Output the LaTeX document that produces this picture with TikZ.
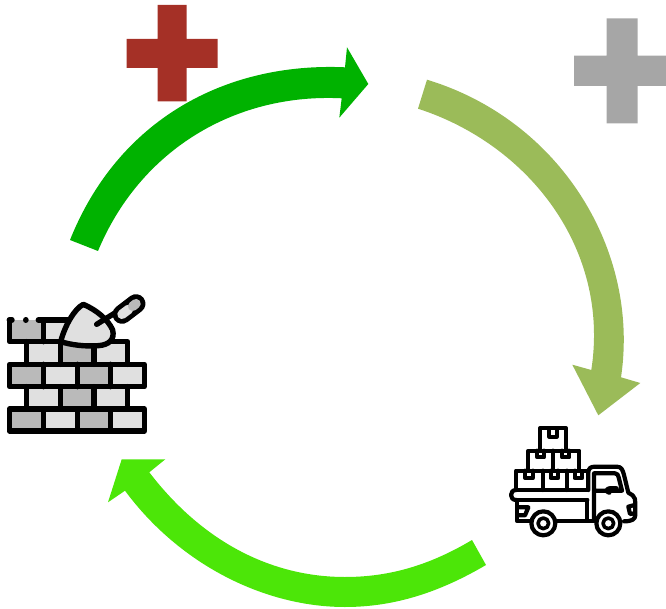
\documentclass[tikz,border=0pt]{standalone}
\definecolor{arrowtop}{RGB}{0,178,0}
\definecolor{arrowright}{RGB}{155,187,89}
\definecolor{arrowbottom}{RGB}{76,230,8}
\definecolor{crossred}{RGB}{165,48,38}
\definecolor{crossgray}{RGB}{166,166,166}
\definecolor{bricklight}{RGB}{224,224,224}
\definecolor{brickdark}{RGB}{186,186,186}
\tikzset{
  ink/.style={draw=black,line join=round,line cap=round},
  wallink/.style={ink,line width=5.4pt},
  truckink/.style={ink,line width=4.2pt},
  zoomwall/.style={shift={(0,285)},x=0.33333pt,y=-0.33333pt},
  zoomtruck/.style={shift={(500,420)},x=0.33333pt,y=-0.33333pt}
}
\begin{document}
\begin{tikzpicture}[x=1pt,y=-1pt]
\useasboundingbox (0,0) rectangle (666,609);
% crosses
\fill[crossred] (157.5,5) -- (186.7,5) -- (186.7,39) -- (217.5,39) -- (217.5,68) -- (186.7,68) -- (186.7,101.5) -- (157.5,101.5) -- (157.5,68) -- (126.5,68) -- (126.5,39) -- (157.5,39) -- cycle;
\fill[crossgray] (606.7,18.5) -- (637.5,18.5) -- (637.5,55.7) -- (666,55.7) -- (666,86) -- (637.5,86) -- (637.5,123.5) -- (606.7,123.5) -- (606.7,86) -- (574,86) -- (574,55.7) -- (606.7,55.7) -- cycle;
% arrows
\fill[arrowtop] (70,240) .. controls (118,120) and (225,62) .. (345,67.3) -- (347,47.3) -- (368.3,84) -- (339.3,117.7) -- (341.7,98.3) .. controls (235,93) and (140,150) .. (98,251) -- cycle;
\fill[arrowright] (427,79.7) .. controls (560,120) and (640,250) .. (621,377.3) -- (640.3,383) -- (598.3,415.3) -- (572.3,364.7) -- (591.3,370) .. controls (610,250) and (530,145) .. (418,108.7) -- cycle;
\fill[arrowbottom] (486,565) .. controls (440,592) and (395,607) .. (345,607) .. controls (265,607) and (180,565) .. (125,490.7) -- (108,502.3) -- (121.7,459.3) -- (165.3,459.3) -- (149.3,472.3) .. controls (205,545) and (275,577) .. (345,577) .. controls (390,577) and (430,565) .. (472,540) -- cycle;
% brick wall icon
\begin{scope}[zoomwall]
  \fill[brickdark] (30,105) rectangle (130,170);
  \fill[bricklight] (130,105) rectangle (230,170);
  \foreach \xa/\xb/\c in {85/182/bricklight,182/282/brickdark,282/382/bricklight}{
    \fill[\c] (\xa,170) rectangle (\xb,238);
    \fill[\c] (\xa,305) rectangle (\xb,372);
  }
  \foreach \xa/\xb/\c in {30/131/brickdark,131/232/bricklight,232/332/brickdark,332/430/bricklight}{
    \fill[\c] (\xa,238) rectangle (\xb,305);
    \fill[\c] (\xa,372) rectangle (\xb,438);
  }
  \draw[wallink] (28,105) -- (36,105) (77,105) -- (78,105) (115,105) -- (215,105);
  \draw[wallink] (28,105) -- (28,170) -- (185,170) (131,105) -- (131,170);
  \draw[wallink] (80,170) -- (80,238) (182,170) -- (182,238) (282,175) -- (282,238) (330,170) -- (383,170) -- (383,238);
  \draw[wallink] (28,238) rectangle (433,305);
  \foreach \v in {131,232,332}{ \draw[wallink] (\v,238) -- (\v,305); \draw[wallink] (\v,372) -- (\v,438); }
  \draw[wallink] (80,305) -- (80,372) (182,305) -- (182,372) (282,305) -- (282,372) (383,305) -- (383,372);
  \draw[wallink] (28,372) rectangle (433,438);
  % trowel
  \draw[wallink,fill=bricklight] (182,170) .. controls (195,120) and (225,70) .. (250,58) .. controls (290,75) and (325,105) .. (338,135) .. controls (345,165) and (325,180) .. (295,182) .. controls (255,185) and (215,180) .. (182,170) -- cycle;
  \draw[wallink] (290,118) -- (348,82);
  \draw[black,line width=19pt,line cap=round] (366,88) -- (408,56);
  \draw[bricklight,line width=9.5pt,line cap=round] (366,88) -- (386,73);
  \draw[brickdark,line width=9.5pt,line cap=round] (398,64) -- (408,56);
\end{scope}
% truck icon
\begin{scope}[zoomtruck]
  \draw[truckink] (120,25) rectangle (198,92);
  \draw[truckink] (148,25) -- (148,50) -- (170,50) -- (170,25);
  \draw[truckink] (85,92) rectangle (238,152) (160,92) -- (160,152);
  \draw[truckink] (112,92) -- (112,112) -- (132,112) -- (132,92) (186,92) -- (186,112) -- (208,112) -- (208,92);
  \draw[truckink] (48,210) -- (48,152) -- (262,152) (128,152) -- (128,210) (200,152) -- (200,210);
  \draw[truckink] (76,152) -- (76,174) -- (98,174) -- (98,152) (152,152) -- (152,174) -- (174,174) -- (174,152) (224,152) -- (224,174) -- (246,174) -- (246,160);
  \draw[truckink] (48,210) -- (262,210) (48,240) -- (262,240);
  \draw[truckink] (48,210) .. controls (28,210) and (28,240) .. (48,240);
  \draw[truckink] (50,240) -- (50,302) -- (92,302) (172,302) -- (282,302);
  \draw[truckink] (55,262) -- (85,262) -- (75,286) -- (55,286);
  \draw[truckink] (262,240) -- (262,302);
  % cab
  \draw[truckink] (265,210) -- (265,158) .. controls (265,145) and (272,140) .. (285,140) -- (350,140) .. controls (365,140) and (368,150) .. (372,165) -- (385,218) -- (398,226) .. controls (405,232) and (406,240) .. (406,250) -- (406,285) .. controls (406,298) and (395,304) .. (372,304);
  \draw[truckink] (282,302) -- (282,160) -- (345,160) .. controls (352,160) and (354,165) .. (356,172) -- (366,212) -- (285,212);
  \draw[truckink] (350,205) -- (328,205) .. controls (318,205) and (318,218) .. (328,218);
  \draw[truckink] (385,260) -- (404,255) (385,260) -- (390,282) -- (404,280);
  % wheels
  \foreach \cx in {130,325}{
    \draw[truckink,fill=white] (\cx,310) circle[radius=36];
    \draw[truckink,line width=3.6pt,fill=white] (\cx,310) circle[radius=16];
  }
\end{scope}
\end{tikzpicture}
\end{document}
